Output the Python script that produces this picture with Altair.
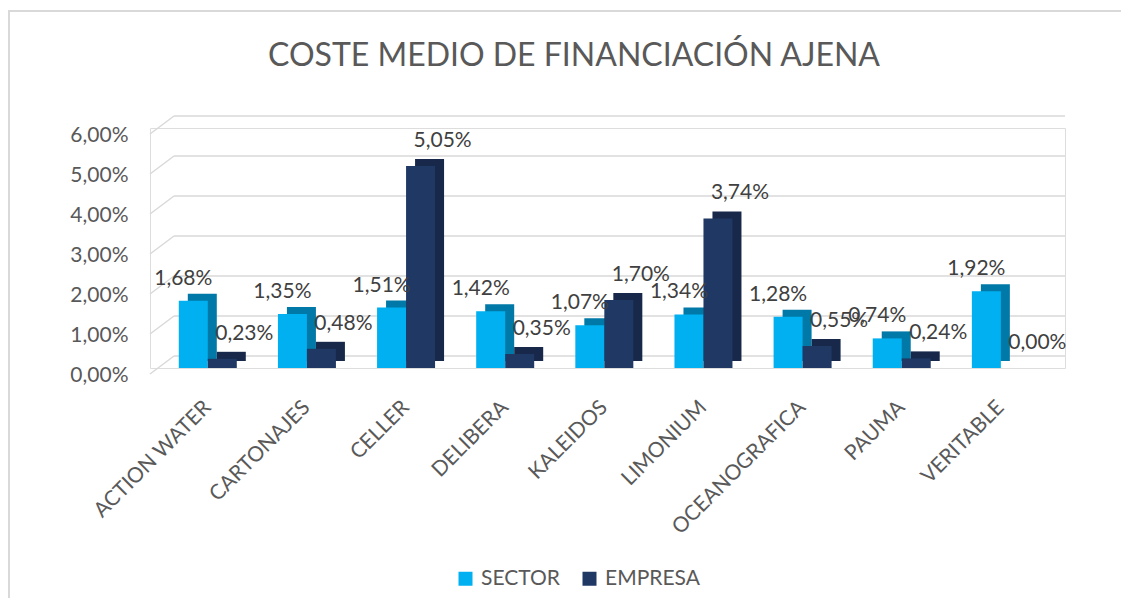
import altair as alt
import pandas as pd

categories = ["ACTION WATER", "CARTONAJES", "CELLER", "DELIBERA", "KALEIDOS",
              "LIMONIUM", "OCEANOGRAFICA", "PAUMA", "VERITABLE"]
sector = [1.68, 1.35, 1.51, 1.42, 1.07, 1.34, 1.28, 0.74, 1.92]
empresa = [0.23, 0.48, 5.05, 0.35, 1.70, 3.74, 0.55, 0.24, 0.00]
series = ["SECTOR", "EMPRESA"]
grid_values = [0, 1, 2, 3, 4, 5, 6]
title_text = ["COSTE MEDIO DE FINANCIACIÓN AJENA"]

rows = []
for c, s, e in zip(categories, sector, empresa):
    rows.append({"cat": c, "serie": "SECTOR", "value": s})
    rows.append({"cat": c, "serie": "EMPRESA", "value": e})
df = pd.DataFrame(rows)
grid_df = pd.DataFrame({"v": grid_values})
title_df = pd.DataFrame({"t": title_text})

FONT = "Lato"
FS = 21
W, H = 915, 240
BW = 29          # bar width (px)
DX, DY = 9, -7   # 3D depth offset

base = alt.Chart(df).transform_calculate(
    label="replace(format(datum.value, '.2f'), '.', ',') + '%'"
)

y_axis = alt.Axis(values=grid_values, grid=False, domain=False, ticks=False,
                  labelPadding=22, labelOffset=7, labelOverlap=False,
                  labelExpr="replace(format(datum.value, '.2f'), '.', ',') + '%'",
                  labelFont=FONT, labelFontSize=FS, labelColor="#595959")
y_scale = alt.Scale(domain=[0, 6], nice=False)

x_enc = alt.X("cat:N", sort=categories, title=None,
              scale=alt.Scale(paddingInner=0.41, paddingOuter=0.32, align=0.45),
              axis=alt.Axis(labelAngle=315, labelAlign="right", labelBaseline="middle",
                            labelPadding=36, domain=False, ticks=False,
                            labelFont=FONT, labelFontSize=FS, labelColor="#595959"))
y_enc = alt.Y("value:Q", title=None, scale=y_scale, axis=y_axis)
color_enc = alt.Color("serie:N", sort=series,
                      scale=alt.Scale(domain=series, range=["#00B0F0", "#203864"]),
                      legend=alt.Legend(title=None, orient="none", direction="horizontal",
                                        legendX=305, legendY=440, symbolType="square",
                                        symbolSize=196, symbolStrokeWidth=0,
                                        labelFont=FONT, labelFontSize=FS, labelColor="#595959",
                                        labelOffset=5, columnPadding=19, padding=0))

grid_back = alt.Chart(grid_df).mark_rule(color="#d9d9d9", strokeWidth=1.5, yOffset=-12).encode(
    x=alt.value(24), x2=alt.value(W), y=alt.Y("v:Q", title=None, scale=y_scale, axis=y_axis))
grid_slant = alt.Chart(grid_df).mark_rule(color="#d9d9d9", strokeWidth=1.5, yOffset=6, y2Offset=-12).encode(
    x=alt.value(0), x2=alt.value(24), y=alt.Y("v:Q", title=None, scale=y_scale, axis=y_axis), y2="v:Q")

S = base.transform_filter(alt.datum.serie == "SECTOR")
E = base.transform_filter(alt.datum.serie == "EMPRESA")

s_depth = S.mark_bar(size=BW, xOffset=-BW / 2 + DX, yOffset=DY, y2Offset=DY, color="#0079A8").encode(
    x=x_enc, y=y_enc)
s_front = S.mark_bar(size=BW, xOffset=-BW / 2).encode(x=x_enc, y=y_enc, color=color_enc)
e_depth = E.mark_bar(size=BW, xOffset=BW / 2 + DX, yOffset=DY, y2Offset=DY, color="#17284A").encode(
    x=x_enc, y=y_enc)
e_front = E.mark_bar(size=BW, xOffset=BW / 2).encode(x=x_enc, y=y_enc, color=color_enc)

lab_s = S.mark_text(font=FONT, fontSize=FS, color="#404040", dx=-BW / 2 - 10, dy=-22,
                    baseline="middle").encode(x=x_enc, y=y_enc, text="label:N")
lab_e = E.mark_text(font=FONT, fontSize=FS, color="#404040", dx=BW / 2 + 22, dy=-25,
                    baseline="middle").encode(x=x_enc, y=y_enc, text="label:N")

border = alt.Chart(grid_df).mark_rect(fill=None, stroke="#d9d9d9", strokeWidth=1.5).encode(
    x=alt.value(-141), x2=alt.value(W + 200), y=alt.value(-117), y2=alt.value(H + 400))

title = alt.Chart(title_df).mark_text(font=FONT, fontSize=32, color="#595959",
                                      baseline="middle", align="center").encode(
    x=alt.value(424), y=alt.value(-72), text="t:N")

chart = alt.layer(border, title, grid_back, grid_slant, s_depth, s_front, e_depth, e_front,
                  lab_s, lab_e).properties(
    width=W, height=H,
    autosize=alt.AutoSizeParams(type="none"),
    padding={"left": 142, "top": 120, "right": 56, "bottom": 230},
).configure_view(stroke=None).configure(background="white")

chart.save("out.html", embed_options={"renderer": "svg", "actions": False})
